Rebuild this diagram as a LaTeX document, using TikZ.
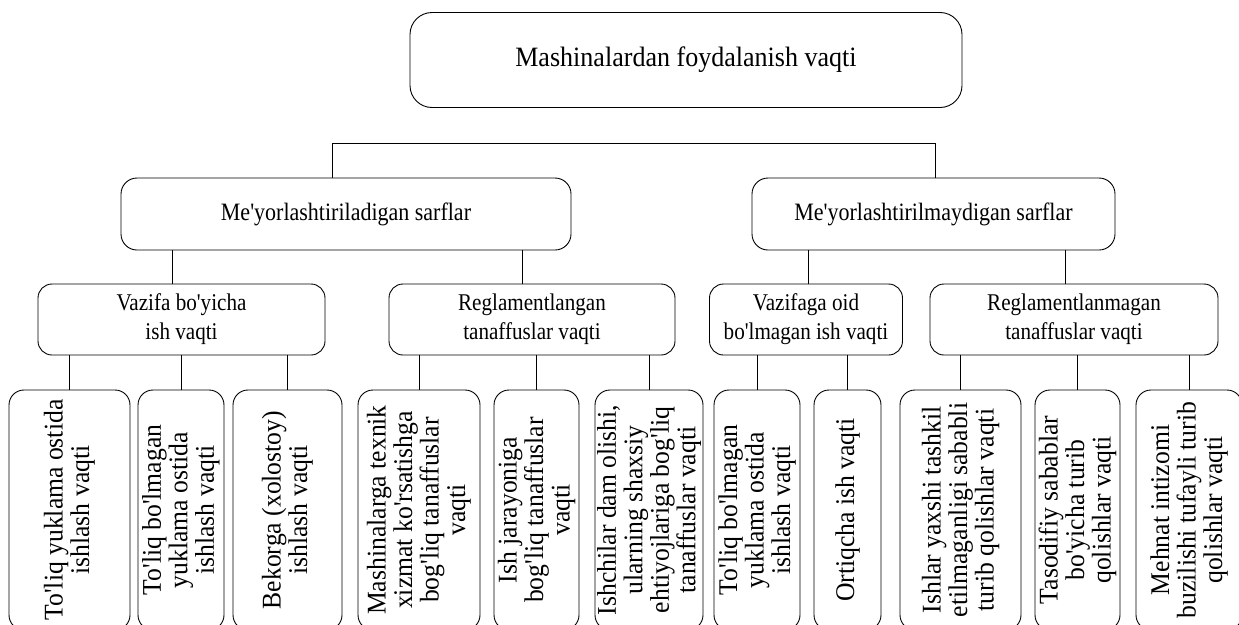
\documentclass[tikz,border=0pt]{standalone}
\usepackage{fontspec}
\setmainfont{Liberation Serif}[Ligatures=TeXOff]
\newfontfamily\titlefont{Liberation Serif}[FakeStretch=0.93, Ligatures=TeXOff]
\newfontfamily\levelfont{Liberation Serif}[FakeStretch=0.88, Ligatures=TeXOff]
\newfontfamily\leaffont{Liberation Serif}[FakeStretch=0.95, Ligatures=TeXOff]

\begin{document}
\begin{tikzpicture}[x=1pt, y=-1pt, line width=0.9pt,
  topbox/.style={draw, rounded corners=22pt, minimum width=552pt, minimum height=95pt, font=\titlefont\fontsize{28}{30}\selectfont},
  midbox/.style={draw, rounded corners=16pt, minimum height=72pt, font=\levelfont\fontsize{25}{28}\selectfont},
  subbox/.style={draw, rounded corners=14pt, minimum height=71pt, inner sep=2pt, align=center, font=\levelfont\fontsize{24}{29}\selectfont},
  leafbox/.style={draw, rounded corners=15pt, rotate=90, minimum width=240pt, inner sep=1pt, align=center, font=\leaffont\fontsize{27}{26.5}\selectfont}]
\useasboundingbox (0,0) rectangle (1239,624);
\node[topbox] (use) at (686,60) {Mashinalardan foydalanish vaqti};
\node[midbox, minimum width=450pt] (norm) at (346,214) {Me'yorlashtiriladigan sarflar};
\node[midbox, minimum width=363pt] (nonorm) at (933.5,214) {Me'yorlashtirilmaydigan sarflar};
\node[subbox, minimum width=287pt] (task) at (181.5,319.5) {Vazifa bo'yicha\\ish vaqti};
\node[subbox, minimum width=286pt] (regl) at (532,319.5) {Reglamentlangan\\tanaffuslar vaqti};
\node[subbox, minimum width=193pt] (nontask) at (806,319.5) {Vazifaga oid\\bo'lmagan ish vaqti};
\node[subbox, minimum width=288pt] (nonregl) at (1074,319.5) {Reglamentlanmagan\\tanaffuslar vaqti};
\node[leafbox, minimum height=121pt] (full) at (69.5,510) {To'liq yuklama ostida\\ishlash vaqti};
\node[leafbox, minimum height=86pt] (part) at (181,510) {To'liq bo'lmagan\\yuklama ostida\\ishlash vaqti};
\node[leafbox, minimum height=109pt] (idle) at (287.5,510) {Bekorga (xolostoy)\\ishlash vaqti};
\node[leafbox, minimum height=122pt] (service) at (419,510) {Mashinalarga texnik\\xizmat ko'rsatishga\\bog'liq tanaffuslar\\vaqti};
\node[leafbox, minimum height=85pt] (process) at (536.5,510) {Ish jarayoniga\\bog'liq tanaffuslar\\vaqti};
\node[leafbox, minimum height=108pt] (rest) at (649,510) {Ishchilar dam olishi,\\ularning shaxsiy\\ehtiyojlariga bog'liq\\tanaffuslar vaqti};
\node[leafbox, minimum height=86pt] (partload) at (757,510) {To'liq bo'lmagan\\yuklama ostida\\ishlash vaqti};
\node[leafbox, minimum height=67pt] (extra) at (847.5,510) {Ortiqcha ish vaqti};
\node[leafbox, minimum height=121pt] (badorg) at (960.5,510) {Ishlar yaxshi tashkil\\etilmaganligi sababli\\turib qolishlar vaqti};
\node[leafbox, minimum height=85pt] (random) at (1077.5,510) {Tasodifiy sabablar\\bo'yicha turib\\qolishlar vaqti};
\node[leafbox, minimum height=106pt] (discipline) at (1189,510) {Mehnat intizomi\\buzilishi tufayli turib\\qolishlar vaqti};
\coordinate (jl) at (332,143);
\coordinate (jr) at (935,143);
\coordinate (a1) at (172,0);
\coordinate (a2) at (522,0);
\coordinate (a3) at (808,0);
\coordinate (a4) at (1065,0);
\draw (jl) -- (jr);
\draw (jl) -- (jl |- norm.north);
\draw (jr) -- (jr |- nonorm.north);
\draw (norm.south -| a1) -- (task.north -| a1);
\draw (norm.south -| a2) -- (regl.north -| a2);
\draw (nonorm.south -| a3) -- (nontask.north -| a3);
\draw (nonorm.south -| a4) -- (nonregl.north -| a4);
\draw (task.south -| full.east) -- (full.east);
\draw (task.south -| part.east) -- (part.east);
\draw (task.south -| idle.east) -- (idle.east);
\draw (regl.south -| service.east) -- (service.east);
\draw (regl.south -| process.east) -- (process.east);
\draw (regl.south -| rest.east) -- (rest.east);
\draw (nontask.south -| partload.east) -- (partload.east);
\draw (nontask.south -| extra.east) -- (extra.east);
\draw (nonregl.south -| badorg.east) -- (badorg.east);
\draw (nonregl.south -| random.east) -- (random.east);
\draw (nonregl.south -| discipline.east) -- (discipline.east);
\end{tikzpicture}
\end{document}
